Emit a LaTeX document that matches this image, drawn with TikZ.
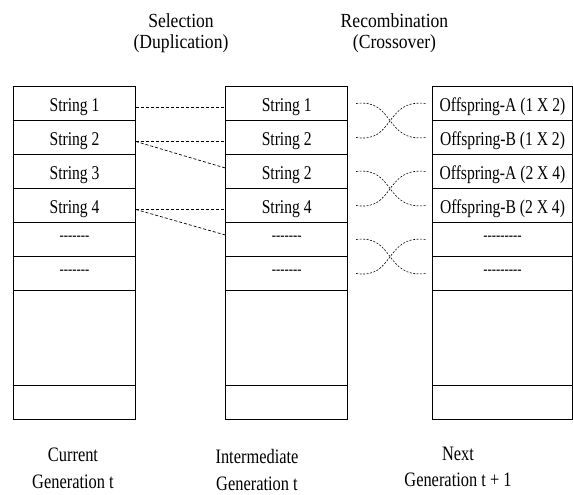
\documentclass[tikz,border=0pt]{standalone}
\usepackage{fontspec}
\setmainfont[FakeStretch=0.8]{Liberation Serif}
\newfontfamily\headfamily[FakeStretch=0.88]{Liberation Serif}
\newfontfamily\dashfamily[FakeStretch=0.8]{Liberation Serif}
\newcommand{\cellfont}{\fontsize{19.5}{20}\selectfont}
\newcommand{\dashfont}{\dashfamily\fontsize{16}{16}\selectfont}
\newcommand{\headfont}{\headfamily\fontsize{20}{20.4}\selectfont}
\newcommand{\footfont}{\fontsize{20.5}{26.6}\selectfont}
\tikzset{every path/.style={line width=.8pt}}

\begin{document}
\begin{tikzpicture}[x=1pt,y=-1pt,
  cell/.style={draw, minimum width=122pt, minimum height=34pt, inner sep=0pt,
    font=\cellfont, text height=15pt, text depth=0pt},
  wide/.style={cell, minimum width=140pt},
  dots/.style={font=\dashfont, text height=1.2pt, text depth=0pt},
  select/.style={dash pattern=on 3pt off 2pt, line width=.7pt},
  cross/.style={dash pattern=on 2pt off 1.5pt, line width=.6pt},
  caption/.style={font=\footfont, align=center, inner sep=0pt}]
\useasboundingbox (0,0) rectangle (573,495);

% current generation
\node[cell] (L1) at (74.5,103.5) {String 1};
\node[cell] (L2) at (74.5,137.5) {String 2};
\node[cell] (L3) at (74.5,171.5) {String 3};
\node[cell] (L4) at (74.5,205.5) {String 4};
\node[cell, dots] (L5) at (74.5,239.5) {-------};
\node[cell, dots] (L6) at (74.5,273.5) {-------};

% intermediate generation
\node[cell] (M1) at (286.7,103.5) {String 1};
\node[cell] (M2) at (286.7,137.5) {String 2};
\node[cell] (M3) at (286.7,171.5) {String 2};
\node[cell] (M4) at (286.7,205.5) {String 4};
\node[cell, dots] (M5) at (286.7,239.5) {-------};
\node[cell, dots] (M6) at (286.7,273.5) {-------};

% next generation
\node[wide] (R1) at (502.5,103.5) {Offspring-A (1 X 2)};
\node[wide] (R2) at (502.5,137.5) {Offspring-B (1 X 2)};
\node[wide] (R3) at (502.5,171.5) {Offspring-A (2 X 4)};
\node[wide] (R4) at (502.5,205.5) {Offspring-B (2 X 4)};
\node[wide, dots] (R5) at (502.5,239.5) {---------};
\node[wide, dots] (R6) at (502.5,273.5) {---------};

\foreach \c/\x/\w in {L/74.5/122, M/286.7/122, R/502.5/140} {
  \node[cell, minimum width=\w pt, minimum height=95pt] (\c7) at (\x,338) {};
  \node[cell, minimum width=\w pt] (\c8) at (\x,402.5) {};
}

% selection
\draw[select] ([yshift=-4pt]L1.east) -- ([yshift=-4pt]M1.west);
\draw[select] ([yshift=-4pt]L2.east) -- ([yshift=-4pt]M2.west);
\draw[select] ([yshift=-4pt]L2.east) -- ([yshift=3.5pt]M3.west);
\draw[select] ([yshift=-4pt]L4.east) -- ([yshift=-4pt]M4.west);
\draw[select] ([yshift=-4pt]L4.east) -- ([yshift=4.5pt]M5.west);

% crossover
\foreach \a/\b in {1/2, 3/4, 5/6} {
  \draw[cross] ([xshift=8pt]M\a.east) .. controls +(39,-5) and +(-42,5) .. ([xshift=-6pt]R\b.west);
  \draw[cross] ([xshift=8pt]M\b.east) .. controls +(39,6) and +(-42,-5) .. ([xshift=-6pt]R\a.west);
}

\node[font=\headfont, align=center] (sel) at (181,33) {Selection\\(Duplication)};
\node[font=\headfont, align=center] (rec) at (394.5,33) {Recombination\\(Crossover)};
\node[caption] (cur) at (73,468.4) {Current\\Generation t};
\node[caption] (mid) at (257,470) {Intermediate\\Generation t};
\node[caption] (nxt) at (458,467) {Next\\Generation t + 1};
\end{tikzpicture}
\end{document}
